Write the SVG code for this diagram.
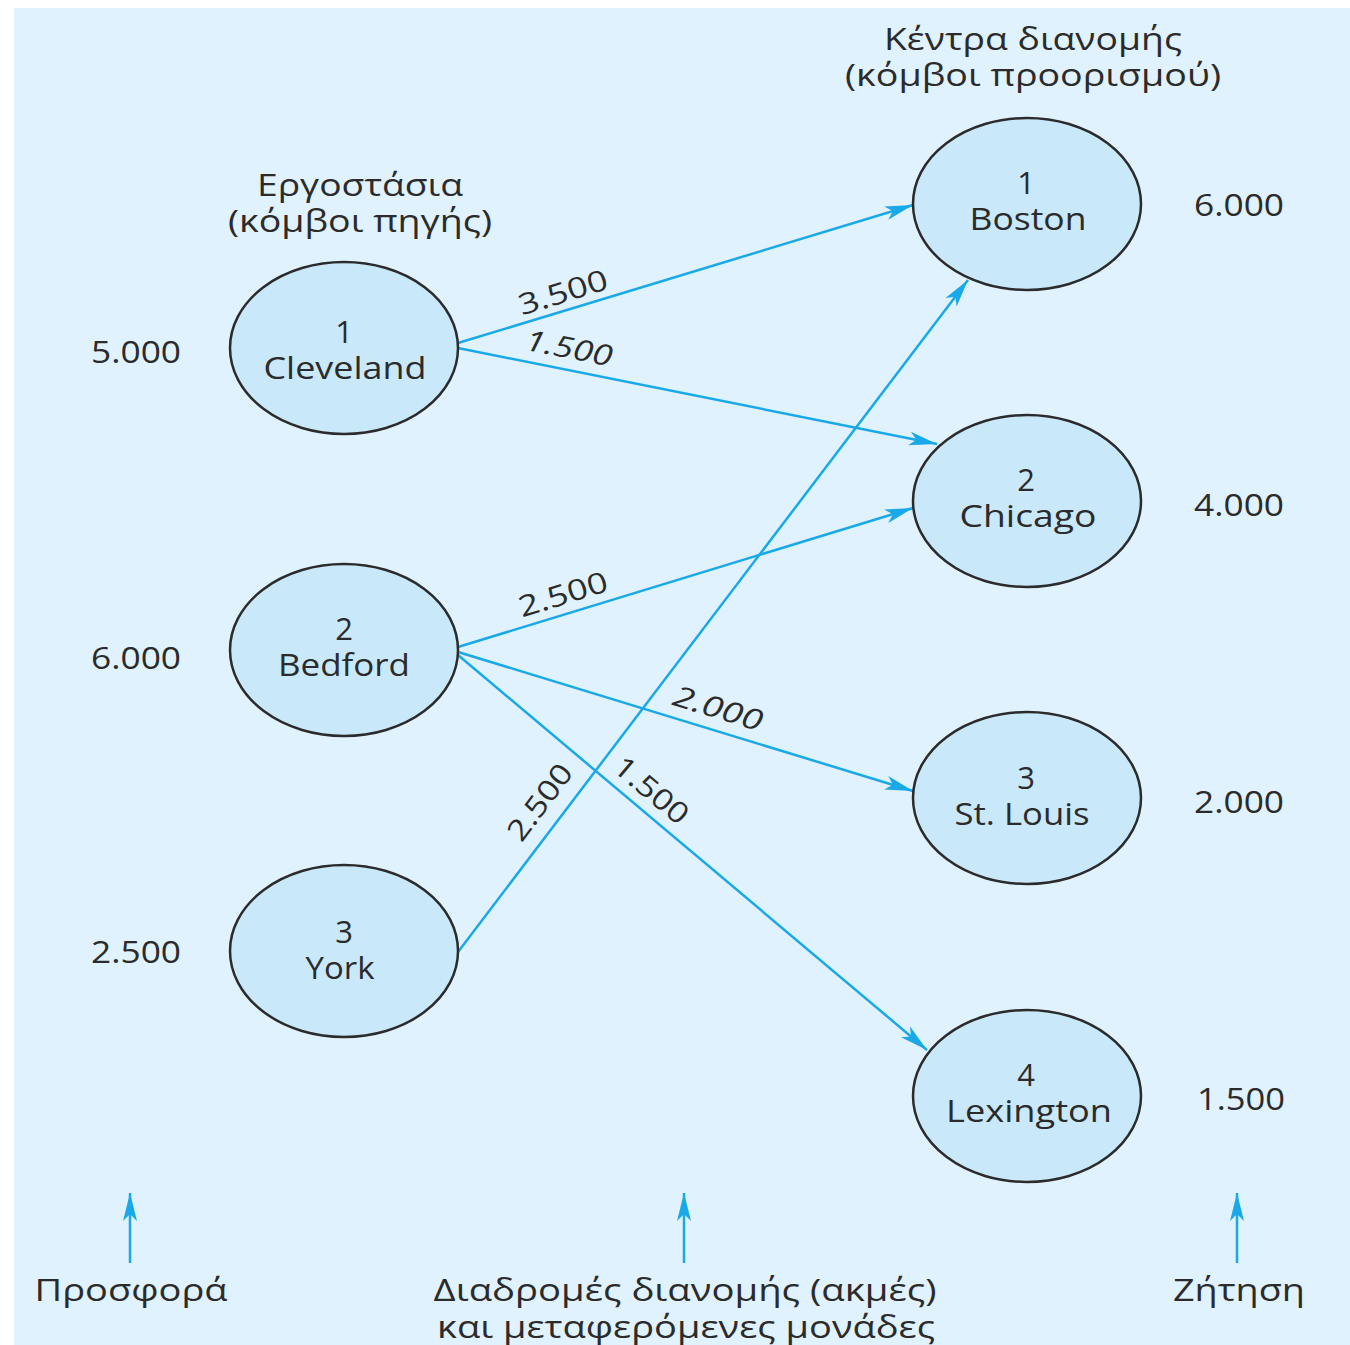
<svg xmlns="http://www.w3.org/2000/svg" width="1350" height="1345" viewBox="0 0 1350 1345">
<style>
.t{font-family:"Open Sans","Noto Sans","DejaVu Sans",sans-serif;font-size:31px;fill:#2b2b2b;text-anchor:middle}
.n{fill:#c9e9fb;stroke:#2b2b2b;stroke-width:2.5}
.e{stroke:#19a9e8;stroke-width:2.5;fill:none}
.lbl{font-family:"Open Sans","Noto Sans","DejaVu Sans",sans-serif;font-size:29px;fill:#2b2b2b;text-anchor:middle}
.it{font-style:italic}
</style>
<defs>
<marker id="ah" markerUnits="userSpaceOnUse" markerWidth="30" markerHeight="16" refX="28" refY="8" orient="auto" viewBox="0 0 30 16">
<path d="M0,1 L28,8 L0,15 L7,8 z" fill="#19a9e8"/>
</marker>
</defs>
<rect x="14" y="8" width="1336" height="1337" fill="#e0f2fd"/>
<g id="edges">
<line class="e" x1="458" y1="343" x2="913" y2="205" marker-end="url(#ah)"/>
<line class="e" x1="458" y1="348" x2="937" y2="444" marker-end="url(#ah)"/>
<line class="e" x1="458" y1="647" x2="913" y2="508" marker-end="url(#ah)"/>
<line class="e" x1="458" y1="652" x2="913" y2="791" marker-end="url(#ah)"/>
<line class="e" x1="458" y1="655" x2="927" y2="1050" marker-end="url(#ah)"/>
<line class="e" x1="458" y1="952" x2="968" y2="280" marker-end="url(#ah)"/>
<line class="e" x1="130" y1="1263" x2="130" y2="1193" marker-end="url(#ah)"/>
<line class="e" x1="684" y1="1263" x2="684" y2="1193" marker-end="url(#ah)"/>
<line class="e" x1="1237" y1="1263" x2="1237" y2="1193" marker-end="url(#ah)"/>
<text class="lbl" transform="translate(566,302) rotate(-17)" textLength="92" lengthAdjust="spacingAndGlyphs">3.500</text>
<text class="lbl it" transform="translate(567,358) rotate(11)" textLength="88" lengthAdjust="spacingAndGlyphs">1.500</text>
<text class="lbl" transform="translate(566,604) rotate(-17)" textLength="92" lengthAdjust="spacingAndGlyphs">2.500</text>
<text class="lbl it" transform="translate(715,718) rotate(17)" textLength="92" lengthAdjust="spacingAndGlyphs">2.000</text>
<text class="lbl" transform="translate(645,798) rotate(40)" textLength="88" lengthAdjust="spacingAndGlyphs">1.500</text>
<text class="lbl" transform="translate(548,808) rotate(-53)" textLength="88" lengthAdjust="spacingAndGlyphs">2.500</text>
</g>
<g id="n-cleveland"><ellipse class="n" cx="344" cy="348" rx="114" ry="86"/><text class="t" x="344" y="343">1</text><text class="t" x="345" y="379" textLength="163" lengthAdjust="spacingAndGlyphs">Cleveland</text></g>
<g id="n-bedford"><ellipse class="n" cx="344" cy="650" rx="114" ry="86"/><text class="t" x="344" y="640">2</text><text class="t" x="344" y="676" textLength="132" lengthAdjust="spacingAndGlyphs">Bedford</text></g>
<g id="n-york"><ellipse class="n" cx="344" cy="951" rx="114" ry="86"/><text class="t" x="344" y="943">3</text><text class="t" x="340" y="979" textLength="69" lengthAdjust="spacingAndGlyphs">York</text></g>
<g id="n-boston"><ellipse class="n" cx="1027" cy="204" rx="114" ry="86"/><text class="t" x="1026" y="194">1</text><text class="t" x="1028" y="230" textLength="117" lengthAdjust="spacingAndGlyphs">Boston</text></g>
<g id="n-chicago"><ellipse class="n" cx="1027" cy="501" rx="114" ry="86"/><text class="t" x="1026" y="491">2</text><text class="t" x="1028" y="527" textLength="137" lengthAdjust="spacingAndGlyphs">Chicago</text></g>
<g id="n-stlouis"><ellipse class="n" cx="1027" cy="798" rx="114" ry="86"/><text class="t" x="1026" y="789">3</text><text class="t" x="1022" y="825" textLength="135" lengthAdjust="spacingAndGlyphs">St. Louis</text></g>
<g id="n-lexington"><ellipse class="n" cx="1027" cy="1096" rx="114" ry="86"/><text class="t" x="1026" y="1086">4</text><text class="t" x="1029" y="1122" textLength="166" lengthAdjust="spacingAndGlyphs">Lexington</text></g>
<g id="labels">
<text class="t" x="360" y="196" textLength="206" lengthAdjust="spacingAndGlyphs">Εργοστάσια</text>
<text class="t" x="360" y="232" textLength="264" lengthAdjust="spacingAndGlyphs">(κόμβοι πηγής)</text>
<text class="t" x="1033" y="50" textLength="298" lengthAdjust="spacingAndGlyphs">Κέντρα διανομής</text>
<text class="t" x="1033" y="86" textLength="376" lengthAdjust="spacingAndGlyphs">(κόμβοι προορισμού)</text>
<text class="t" x="136" y="363" textLength="90" lengthAdjust="spacingAndGlyphs">5.000</text>
<text class="t" x="136" y="669" textLength="90" lengthAdjust="spacingAndGlyphs">6.000</text>
<text class="t" x="136" y="963" textLength="90" lengthAdjust="spacingAndGlyphs">2.500</text>
<text class="t" x="1239" y="216" textLength="90" lengthAdjust="spacingAndGlyphs">6.000</text>
<text class="t" x="1239" y="516" textLength="90" lengthAdjust="spacingAndGlyphs">4.000</text>
<text class="t" x="1239" y="813" textLength="90" lengthAdjust="spacingAndGlyphs">2.000</text>
<text class="t" x="1241" y="1110" textLength="88" lengthAdjust="spacingAndGlyphs">1.500</text>
<text class="t" x="131" y="1301" textLength="193" lengthAdjust="spacingAndGlyphs">Προσφορά</text>
<text class="t" x="685" y="1301" textLength="503" lengthAdjust="spacingAndGlyphs">Διαδρομές διανομής (ακμές)</text>
<text class="t" x="686" y="1338" textLength="498" lengthAdjust="spacingAndGlyphs">και μεταφερόμενες μονάδες</text>
<text class="t" x="1239" y="1301" textLength="132" lengthAdjust="spacingAndGlyphs">Ζήτηση</text>
</g>
</svg>
